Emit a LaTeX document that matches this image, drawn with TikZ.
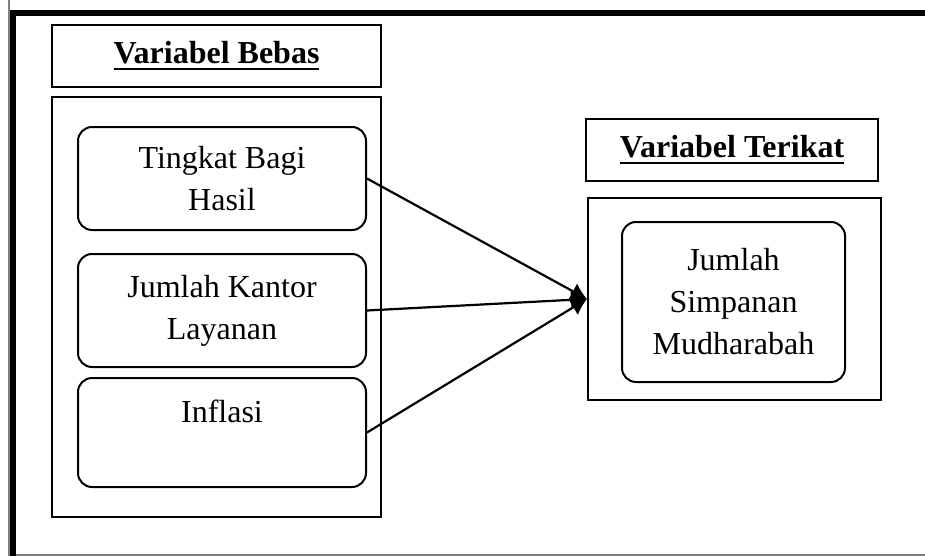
\documentclass[tikz,border=0pt]{standalone}
\usepackage{fontspec}
\setmainfont{Liberation Serif}
\usetikzlibrary{arrows.meta}
\newcommand{\garisbawah}[1]{\setbox0\hbox{#1}\rlap{\rule[-3.2pt]{\wd0}{1.4pt}}\box0}

\begin{document}
\begin{tikzpicture}[x=0.5pt, y=-0.5pt,
    teks/.style={font=\fontsize{16}{21}\selectfont, align=center, inner sep=0pt},
    judul/.style={teks, draw, line width=1pt, minimum height=31pt, font=\fontsize{16}{21}\selectfont\bfseries},
    wadah/.style={draw, line width=1pt, inner sep=0pt},
    kotak/.style={teks, draw, line width=1pt, rounded corners=7pt, minimum width=144pt},
    panah/.style={line width=1.1pt, -{Latex[length=8pt, width=9pt]}}]
    \useasboundingbox (0,0) rectangle (925,556);
    % bingkai halaman
    \draw[gray, line width=0.6pt] (9,0) -- (9,555) -- (925,555);
    \draw[line width=3.3pt] (13,556) -- (13,13) -- (925,13);
    % variabel bebas
    \node[judul, minimum width=164.5pt] (judulbebas) at (216.5,56) {\garisbawah{Variabel Bebas}};
    \node[wadah, minimum width=164.5pt, minimum height=210pt] (bebas) at (216.5,307) {};
    \node[kotak, minimum height=51.5pt] (bagihasil) at (222,178.5) {Tingkat Bagi\\Hasil};
    \node[kotak, minimum height=56.5pt] (kantor) at (222,310.5) {Jumlah Kantor\\Layanan};
    \node[kotak, minimum height=54.5pt] (inflasi) at (222,432.5) {Inflasi\\\mbox{}};
    % variabel terikat
    \node[judul, minimum width=146pt] (judulterikat) at (732,150) {\garisbawah{Variabel Terikat}};
    \node[wadah, minimum width=146.5pt, minimum height=101pt] (terikat) at (734.5,299) {};
    \node[kotak, minimum width=111.5pt, minimum height=80pt] (simpanan) at (733.5,302) {Jumlah\\Simpanan\\Mudharabah};
    % panah
    \draw[panah] (bagihasil.east) -- (terikat.west);
    \draw[panah] (kantor.east) -- (terikat.west);
    \draw[panah] (inflasi.east) -- (terikat.west);
\end{tikzpicture}
\end{document}
